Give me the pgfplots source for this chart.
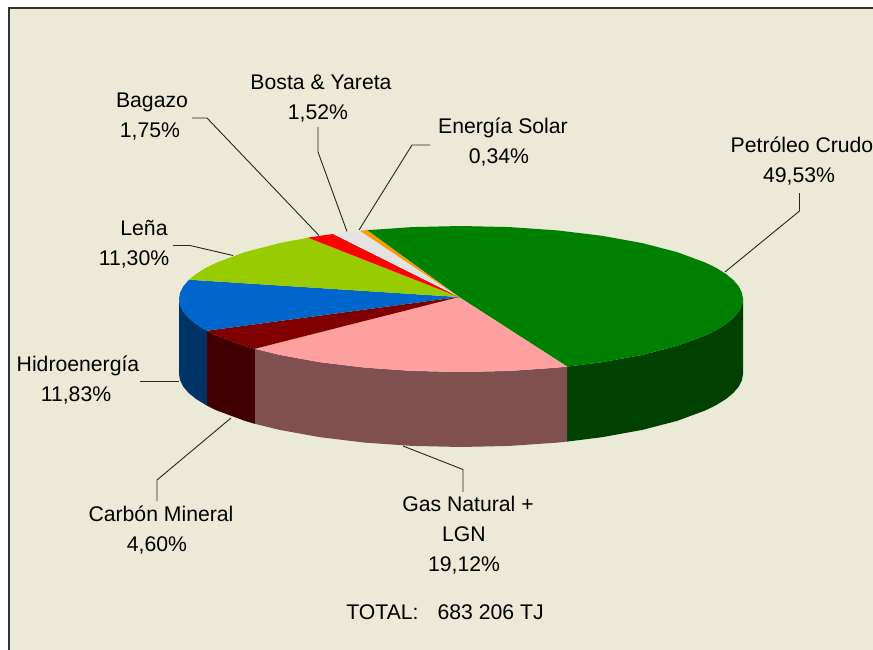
\documentclass[border=0pt]{standalone}
\usepackage{pgfplots}
\pgfplotsset{compat=1.18}
\usepackage{fontspec}
\setmainfont{Liberation Sans}
\definecolor{bgp}{RGB}{234,234,214}
\definecolor{cgreen}{RGB}{0,128,0}
\definecolor{cgreens}{RGB}{0,64,0}
\definecolor{cpink}{RGB}{255,160,160}
\definecolor{cpinks}{RGB}{128,80,80}
\definecolor{cdred}{RGB}{128,0,0}
\definecolor{cdreds}{RGB}{64,0,0}
\definecolor{cblue}{RGB}{0,102,204}
\definecolor{cblues}{RGB}{0,51,102}
\definecolor{clime}{RGB}{153,204,0}
\definecolor{cgrey}{RGB}{227,227,227}
\definecolor{corange}{RGB}{255,153,0}
\definecolor{bord}{RGB}{50,50,50}
\tikzset{
  lbl/.style={font=\fontsize{21.2}{24}\selectfont, text=black, inner sep=0pt, anchor=center, text height=15pt, text depth=0pt},
  lead/.style={draw=black!85, line width=0.9pt, no markers},
}
\begin{document}
\begin{tikzpicture}
\begin{axis}[
  scale only axis, width=873pt, height=650pt,
  xmin=0, xmax=873, ymin=0, ymax=650, y dir=reverse,
  axis lines=box, axis line style={draw=none}, ticks=none,
  clip=true,
]
% panel
\addplot[fill=bgp, draw=none, no markers] coordinates {(9,8)(873,8)(873,650)(9,650)};
\addplot[draw=bord, line width=2pt, no markers] coordinates {(9,650)(9,8)(873,8)};
% sides
\addplot[fill=cgreens, draw=none, no markers] coordinates {(743,299)(741.9,305.4)(738.7,311.7)(733.4,317.9)(726,324)(716.6,329.9)(705.2,335.5)(677,345.9)(642.3,354.9)(602,362.2)(567.1,366.6)(567.1,441.6)(602,437.2)(642.3,429.9)(677,420.9)(705.2,410.5)(716.6,404.9)(726,399)(733.4,392.9)(738.7,386.7)(741.9,380.4)(743,374)};
\addplot[fill=cpinks, draw=none, no markers] coordinates {(567.1,366.6)(557.4,367.6)(510,370.9)(461,372)(412,370.9)(364.6,367.6)(320,362.2)(279.7,354.9)(254.8,348.8)(254.8,423.8)(279.7,429.9)(320,437.2)(364.6,442.6)(412,445.9)(461,447)(510,445.9)(557.4,442.6)(567.1,441.6)};
\addplot[fill=cdreds, draw=none, no markers] coordinates {(254.8,348.8)(245,345.9)(216.8,335.5)(207,330.7)(207,405.7)(216.8,410.5)(245,420.9)(254.8,423.8)};
\addplot[fill=cblues, draw=none, no markers] coordinates {(207,330.7)(196,324)(188.6,317.9)(183.3,311.7)(180.1,305.4)(179,299)(179,374)(180.1,380.4)(183.3,386.7)(188.6,392.9)(196,399)(207,405.7)};
% top slices
\addplot[fill=cgreen, draw=none, no markers] coordinates {(459,297)(567.1,366.6)(602,362.2)(642.3,354.9)(677,345.9)(705.2,335.5)(716.6,329.9)(726,324)(733.4,317.9)(738.7,311.7)(741.9,305.4)(743,299)(741.9,292.6)(738.7,286.3)(733.4,280.1)(726,274)(716.6,268.1)(705.2,262.5)(677,252.1)(642.3,243.1)(602,235.8)(557.4,230.4)(510,227.1)(461,226)(412,227.1)(367,230.2)};
\addplot[fill=cpink, draw=none, no markers] coordinates {(459,297)(254.8,348.8)(279.7,354.9)(320,362.2)(364.6,367.6)(412,370.9)(461,372)(510,370.9)(557.4,367.6)(567.1,366.6)};
\addplot[fill=cdred, draw=none, no markers] coordinates {(459,297)(207,330.7)(216.8,335.5)(245,345.9)(254.8,348.8)};
\addplot[fill=cblue, draw=none, no markers] coordinates {(459,297)(189,279.7)(183.3,286.3)(180.1,292.6)(179,299)(180.1,305.4)(183.3,311.7)(188.6,317.9)(196,324)(207,330.7)};
\addplot[fill=clime, draw=none, no markers] coordinates {(459,297)(308,237.7)(279.7,243.1)(245,252.1)(216.8,262.5)(205.4,268.1)(196,274)(189,279.7)};
\addplot[fill=red, draw=none, no markers] coordinates {(459,297)(333,234)(320,235.8)(308,237.7)};
\addplot[fill=cgrey, draw=none, no markers] coordinates {(459,297)(360,230.8)(333,234)};
\addplot[fill=corange, draw=none, no markers] coordinates {(459,297)(367,230.2)(360,230.8)};
% leader lines
\addplot[lead] coordinates {(725,272)(799.5,211)(799.5,193)};
\addplot[lead] coordinates {(403,446)(463,469.5)(463,492)};
\addplot[lead] coordinates {(231,418)(157,480)(157,501)};
\addplot[lead] coordinates {(179,381.5)(140,381.5)};
\addplot[lead] coordinates {(233,255.5)(190,245.5)(173,245.5)};
\addplot[lead] coordinates {(319,235.5)(207,118)(192,118)};
\addplot[lead] coordinates {(347,231.5)(318,152)(318,127)};
\addplot[lead] coordinates {(359,230)(412,145)(430,145)};
% labels
\node[lbl] at (axis cs:802,145) {Petróleo Crudo};
\node[lbl] at (axis cs:799,175) {49,53\%};
\node[lbl] at (axis cs:468,504) {Gas Natural +};
\node[lbl] at (axis cs:464,534) {LGN};
\node[lbl] at (axis cs:464,564) {19,12\%};
\node[lbl] at (axis cs:161,514) {Carbón Mineral};
\node[lbl] at (axis cs:157,544) {4,60\%};
\node[lbl] at (axis cs:78,364) {Hidroenergía};
\node[lbl] at (axis cs:76,394) {11,83\%};
\node[lbl] at (axis cs:144,228) {Leña};
\node[lbl] at (axis cs:134,258) {11,30\%};
\node[lbl] at (axis cs:152,100) {Bagazo};
\node[lbl] at (axis cs:150,130) {1,75\%};
\node[lbl] at (axis cs:321,82) {Bosta \& Yareta};
\node[lbl] at (axis cs:318,112) {1,52\%};
\node[lbl] at (axis cs:503,126) {Energía Solar};
\node[lbl] at (axis cs:499,156) {0,34\%};
\node[lbl] at (axis cs:445,612) {TOTAL:\hspace{0.9em}683 206 TJ};
\end{axis}
\end{tikzpicture}
\end{document}
